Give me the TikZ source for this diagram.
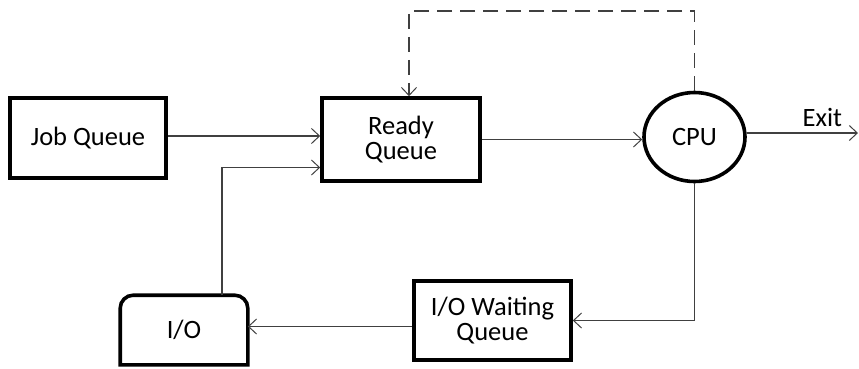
\documentclass[tikz,border=0pt]{standalone}
\usepackage{fontspec}
\setmainfont{Carlito}
\usetikzlibrary{shapes.geometric,arrows.meta}
\begin{document}
\begin{tikzpicture}[x=1pt,y=-1pt,
  box/.style={draw=black,line width=3.6pt,inner sep=0pt,align=center,font=\fontsize{26.5}{25}\selectfont},
  conn/.style={draw=black!75,line width=1.4pt,-{Straight Barb[length=8pt,width=15pt,line width=1pt]}},
  dashconn/.style={conn,dash pattern=on 15pt off 8pt}]
\useasboundingbox (0,0) rectangle (859,368);
\node[box,rectangle,minimum width=156pt,minimum height=80pt] (job) at (88,138) {Job Queue};
\node[box,rectangle,minimum width=158pt,minimum height=83pt] (ready) at (401,139.5) {Ready\\Queue};
\node[box,ellipse,minimum width=101pt,minimum height=89pt] (cpu) at (694.5,137) {CPU};
\node[box,rectangle,minimum width=157pt,minimum height=79pt] (iow) at (492.5,320.5) {I/O Waiting\\Queue};
\node[box,draw=none,rectangle,minimum width=124pt,minimum height=66pt] (io) at (184,330) {I/O};
\draw[line width=3.6pt] (io.south west) -- ([yshift=-13pt]io.north west) arc[start angle=180,end angle=90,radius=13pt] -- ([xshift=-13pt]io.north east) arc[start angle=90,end angle=0,radius=13pt] -- (io.south east) -- cycle;
\coordinate (dtop) at (0,11);
\coordinate (exit) at (858,133);
\draw[conn] ([yshift=2pt]job.east) -- ([yshift=2pt]job.east -| ready.west);
\draw[conn] (ready.east) -- (ready.east -| cpu.west);
\draw[conn] ([yshift=4pt]cpu.east) -- ([yshift=4pt]cpu.east -| exit) node[pos=0.68,above=2pt,font=\fontsize{26.5}{25}\selectfont] {Exit};
\draw[conn] (cpu.south) |- (iow.east);
\draw[conn] ([yshift=-6pt]iow.west) -- ([yshift=-6pt]iow.west -| io.east);
\draw[conn] ([xshift=38pt]io.north) |- ([yshift=-28pt]ready.west);
\draw[dashconn] (cpu.north) -- (cpu.north |- dtop) -| ([xshift=8pt]ready.north);
\end{tikzpicture}
\end{document}
